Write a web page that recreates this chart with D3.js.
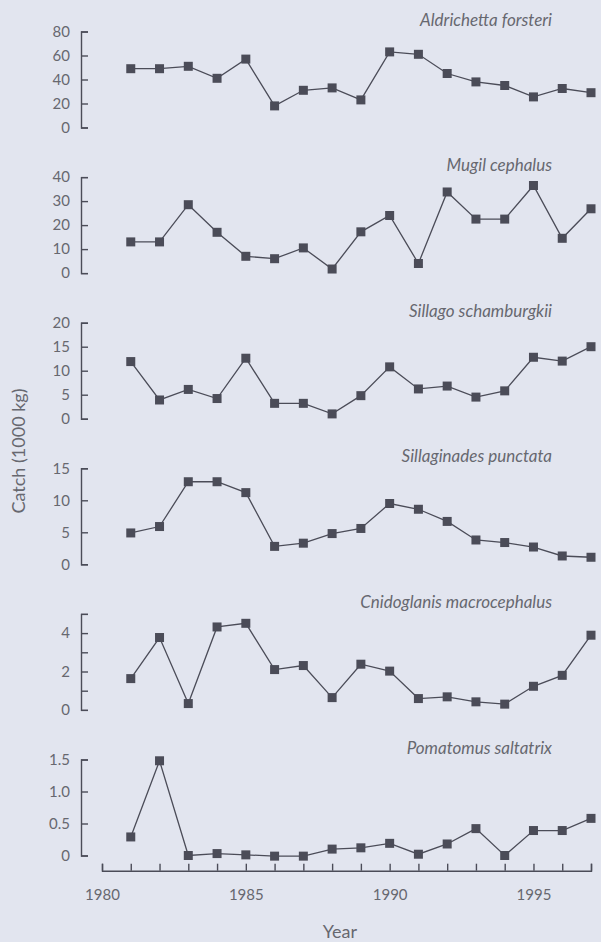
<!DOCTYPE html>
<html>
<head>
<meta charset="utf-8">
<script src="https://cdn.jsdelivr.net/npm/d3@7"></script>
<style>
  html, body { margin: 0; padding: 0; background: #e2e5ef; }
  svg { display: block; }
</style>
</head>
<body>
<svg id="chart" width="601" height="942"></svg>
<script>
const years = [1981, 1982, 1983, 1984, 1985, 1986, 1987, 1988, 1989, 1990, 1991, 1992, 1993, 1994, 1995, 1996, 1997]
const xTicks = [1980, 1981, 1982, 1983, 1984, 1985, 1986, 1987, 1988, 1989, 1990, 1991, 1992, 1993, 1994, 1995, 1996, 1997]

const species = [
  'Aldrichetta forsteri',
  'Mugil cephalus',
  'Sillago schamburgkii',
  'Sillaginades punctata',
  'Cnidoglanis macrocephalus',
  'Pomatomus saltatrix'
]

// catch in 1000 kg
const aldrichetta = [49, 49, 51, 41, 57, 18, 31, 33, 23, 63, 61, 45, 38, 35, 25.5, 32.5, 29]
const mugil = [13, 13, 28.5, 17, 7, 6, 10.5, 1.7, 17.2, 24, 4, 33.8, 22.5, 22.5, 36.5, 14.5, 26.8]
const sillago = [11.9, 3.9, 6.1, 4.2, 12.6, 3.2, 3.2, 1, 4.8, 10.8, 6.2, 6.8, 4.5, 5.8, 12.8, 12, 15]
const sillaginades = [4.9, 5.9, 12.9, 12.9, 11.2, 2.8, 3.3, 4.8, 5.6, 9.5, 8.6, 6.7, 3.8, 3.4, 2.7, 1.3, 1.1]
const cnidoglanis = [1.63, 3.77, 0.33, 4.32, 4.51, 2.1, 2.31, 0.64, 2.38, 2.02, 0.59, 0.68, 0.42, 0.3, 1.23, 1.8, 3.89]
const pomatomus = [0.29, 1.48, 0, 0.03, 0.01, -0.01, -0.01, 0.1, 0.12, 0.19, 0.02, 0.18, 0.42, 0, 0.39, 0.39, 0.58]

const series = [aldrichetta, mugil, sillago, sillaginades, cnidoglanis, pomatomus]

const yTicks = [
  [0, 20, 40, 60, 80],
  [0, 10, 20, 30, 40],
  [0, 5, 10, 15, 20],
  [0, 5, 10, 15],
  [0, 1, 2, 3, 4, 5],
  [0, 0.5, 1, 1.5]
]
const yTickLabels = [
  ['0', '20', '40', '60', '80'],
  ['0', '10', '20', '30', '40'],
  ['0', '5', '10', '15', '20'],
  ['0', '5', '10', '15'],
  ['0', '', '2', '', '4', ''],
  ['0', '0.5', '1.0', '1.5']
]

const ink = '#4b4c58'
const textCol = '#67686f'
const font = 'Lato, "Open Sans", sans-serif'

const svg = d3.select('#chart')

const x = d3.scaleLinear().domain([1980, 1997]).range([102, 591])
const axisX = 81
const panelTop = 31.5
const panelStep = 145.6
const panelH = 96

series.forEach((values, i) => {
  const top = panelTop + i * panelStep
  const ticks = yTicks[i]
  const y = d3.scaleLinear()
    .domain([0, ticks[ticks.length - 1]])
    .range([top + panelH, top])

  const g = svg.append('g').attr('class', 'panel')

  const yAxis = d3.axisLeft(y)
    .tickValues(ticks)
    .tickSize(-7)
    .tickSizeOuter(-7)
    .tickPadding(11)
    .tickFormat((d, k) => yTickLabels[i][k])

  const ga = g.append('g')
    .attr('transform', `translate(${axisX},0)`)
    .call(yAxis)
  ga.select('.domain').attr('stroke', ink).attr('stroke-width', 1.4)
  ga.selectAll('.tick line').attr('stroke', ink).attr('stroke-width', 1.4)
  ga.selectAll('.tick text')
    .attr('fill', textCol)
    .attr('font-family', font)
    .attr('font-size', 15)

  // species name
  g.append('text')
    .attr('x', 552)
    .attr('y', top - 6)
    .attr('text-anchor', 'end')
    .attr('font-family', font)
    .attr('font-style', 'italic')
    .attr('font-size', 17)
    .attr('fill', textCol)
    .text(species[i])

  const line = d3.line()
    .x((d, k) => x(years[k]))
    .y(d => y(d))

  g.append('path')
    .datum(values)
    .attr('d', line)
    .attr('fill', 'none')
    .attr('stroke', ink)
    .attr('stroke-width', 1.3)

  g.selectAll('rect.pt')
    .data(values)
    .join('rect')
    .attr('class', 'pt')
    .attr('x', (d, k) => x(years[k]) - 4.5)
    .attr('y', d => y(d) - 4.5)
    .attr('width', 9)
    .attr('height', 9)
    .attr('fill', ink)
})

/* --------- X AXIS ---------*/
const xAxis = d3.axisBottom(x)
  .tickValues(xTicks)
  .tickSize(-7)
  .tickSizeOuter(-7)
  .tickPadding(19)
  .tickFormat(d => d % 5 === 0 ? d : '')

const gx = svg.append('g')
  .attr('transform', 'translate(0,870.7)')
  .call(xAxis)
gx.select('.domain').attr('stroke', ink).attr('stroke-width', 1.4)
gx.selectAll('.tick line').attr('stroke', ink).attr('stroke-width', 1.4)
gx.selectAll('.tick text')
  .attr('fill', textCol)
  .attr('font-family', font)
  .attr('font-size', 15)

svg.append('text')
  .attr('x', 340)
  .attr('y', 937.5)
  .attr('text-anchor', 'middle')
  .attr('font-family', font)
  .attr('font-size', 18)
  .attr('fill', textCol)
  .text('Year')

svg.append('text')
  .attr('transform', 'translate(25,451) rotate(-90)')
  .attr('text-anchor', 'middle')
  .attr('font-family', font)
  .attr('font-size', 18)
  .attr('fill', textCol)
  .text('Catch (1000 kg)')
</script>
</body>
</html>
